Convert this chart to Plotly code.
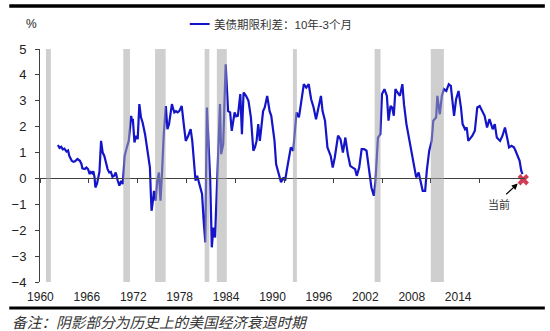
import plotly.graph_objects as go

# US Treasury term spread, 10Y minus 3M (%), sampled at turning points
years = [
    1962.2, 1962.4, 1962.6, 1962.8, 1963.0, 1963.25, 1963.45, 1963.6, 1963.9, 1964.1,
    1964.3, 1964.6, 1964.9, 1965.1, 1965.2, 1965.5, 1965.7, 1965.9, 1966.1, 1966.25,
    1966.4, 1966.55, 1966.7, 1966.8, 1967.0, 1967.2, 1967.3, 1967.5, 1967.6, 1967.7,
    1967.9, 1968.1, 1968.3, 1968.5, 1968.7, 1968.9, 1969.1, 1969.3, 1969.45, 1969.55,
    1969.75, 1969.96, 1970.16, 1970.4, 1970.6, 1970.9, 1971.2, 1971.3, 1971.4, 1971.5,
    1971.6, 1971.8, 1972.0, 1972.2, 1972.3, 1972.4, 1972.6, 1972.9, 1973.2, 1973.5,
    1973.6, 1973.7, 1973.85, 1974.0, 1974.2, 1974.3, 1974.4, 1974.6, 1974.7, 1974.8,
    1975.0, 1975.2, 1975.45, 1975.65, 1975.85, 1976.2, 1976.35, 1976.5, 1976.7, 1976.9,
    1977.1, 1977.4, 1977.7, 1977.9, 1978.2, 1978.5, 1978.7, 1978.9, 1979.1, 1979.3,
    1979.5, 1979.7, 1979.9, 1980.1, 1980.3, 1980.5, 1980.7, 1980.9, 1981.1, 1981.3,
    1981.5, 1981.7, 1981.9, 1982.1, 1982.25, 1982.5, 1982.8, 1983.1, 1983.35, 1983.55,
    1983.9, 1984.1, 1984.3, 1984.6, 1984.8, 1985.0, 1985.3, 1985.6, 1985.9, 1986.2,
    1986.4, 1986.6, 1986.8, 1987.0, 1987.4, 1987.6, 1987.9, 1988.2, 1988.4, 1988.8,
    1989.0, 1989.3, 1989.6, 1989.9, 1990.1, 1990.3, 1990.5, 1990.8, 1991.1, 1991.5,
    1991.8, 1992.1, 1992.4, 1992.7, 1993.0, 1993.3, 1993.6, 1993.9, 1994.2, 1994.5,
    1994.7, 1995.0, 1995.3, 1995.7, 1995.95, 1996.2, 1996.6, 1996.9, 1997.2, 1997.5,
    1997.8, 1998.1, 1998.4, 1998.7, 1998.9, 1999.2, 1999.5, 1999.8, 2000.1, 2000.4,
    2000.7, 2001.0, 2001.2, 2001.5, 2001.8, 2002.0, 2002.3, 2002.6, 2002.8, 2003.05,
    2003.25, 2003.45, 2003.65, 2003.9, 2004.2, 2004.5, 2004.7, 2005.0, 2005.3, 2005.6,
    2005.9, 2006.2, 2006.5, 2006.8, 2007.0, 2007.3, 2007.5, 2007.8, 2008.1, 2008.3,
    2008.65, 2008.8, 2009.1, 2009.35, 2009.6, 2009.9, 2010.2, 2010.45, 2010.7, 2010.85,
    2011.1, 2011.4, 2011.7, 2011.9, 2012.2, 2012.4, 2012.6, 2012.9, 2013.1, 2013.4,
    2013.7, 2014.0, 2014.35, 2014.6, 2014.9, 2015.2, 2015.6, 2015.85, 2016.1, 2016.5,
    2016.8, 2017.1, 2017.4, 2017.6, 2017.9, 2018.2, 2018.4, 2018.7, 2018.9, 2019.1,
    2019.25,
]
spread = [
    1.29, 1.18, 1.22, 1.12, 1.15, 1.04, 1.08, 0.87, 0.68, 0.64,
    0.66, 0.75, 0.68, 0.55, 0.39, 0.36, 0.42, 0.36, 0.17, 0.25,
    0.20, 0.28, 0.04, -0.35, -0.20, 0.10, 0.25, 1.45, 1.05, 1.00,
    0.87, 0.55, 0.36, 0.23, 0.25, 0.06, 0.10, 0.23, 0.00, -0.09,
    -0.28, -0.09, -0.22, 0.87, 1.13, 1.45, 2.42, 2.20, 2.30, 1.90,
    1.39, 1.65, 1.52, 2.87, 2.50, 2.36, 2.16, 1.71, 1.07, 0.42,
    -0.50, -1.25, -0.90, -0.48, -0.86, -0.40, -0.09, 0.23, -0.30, -0.86,
    0.30, 1.71, 2.80, 1.90, 2.10, 2.87, 2.70, 2.55, 2.60, 2.55,
    2.60, 2.80, 1.97, 1.45, 1.65, 1.90, 1.45, 0.55, -0.09, 0.10,
    -0.15, -0.35, -0.60, -1.63, -2.47, 2.74, 1.45, -0.03, -2.66, -1.90,
    -2.28, -0.60, 1.45, 2.87, 0.94, 1.33, 4.41, 2.60, 2.55, 1.84,
    2.55, 2.40, 2.42, 3.26, 1.71, 3.32, 3.19, 3.00, 2.36, 1.07,
    1.20, 1.45, 2.10, 1.45, 2.60, 2.74, 3.19, 2.60, 2.42, 1.45,
    0.55, 0.17, -0.15, 0.04, -0.09, 0.30, 0.68, 1.20, 1.07, 2.55,
    2.36, 3.06, 3.64, 3.51, 3.64, 3.06, 2.74, 2.29, 2.68, 3.19,
    2.60, 2.23, 1.20, 0.87, 0.42, 0.81, 1.65, 1.52, 1.00, 1.58,
    0.94, 0.49, 0.42, 0.36, 0.10, 0.42, 1.13, 1.13, 1.07, 0.42,
    -0.35, -0.67, -0.09, 1.58, 1.71, 3.26, 3.45, 3.19, 2.23, 2.80,
    2.74, 2.42, 3.45, 3.32, 3.19, 3.64, 2.87, 2.10, 1.58, 0.94,
    0.55, 0.04, 0.23, -0.22, -0.48, -0.48, 0.30, 1.07, 1.45, 2.23,
    2.36, 3.19, 2.48, 3.19, 3.45, 3.38, 3.64, 3.58, 2.80, 2.42,
    3.06, 3.38, 2.74, 2.10, 1.90, 1.97, 1.45, 1.58, 1.65, 1.84,
    2.74, 2.80, 2.60, 2.42, 1.97, 2.29, 1.90, 2.10, 1.58, 1.45,
    1.65, 1.97, 1.52, 1.20, 1.26, 1.20, 1.07, 0.81, 0.68, 0.30,
    0.17,
]

# Latest reading, highlighted with a marker
current_year = [2019.35]
current_value = [-0.05]

# US recession periods (shaded)
recession_start = [1960.73, 1970.23, 1974.13, 1980.22, 1981.72, 1991.06, 2001.09, 2007.99]
recession_end = [1961.34, 1971.05, 1975.43, 1980.79, 1982.94, 1991.55, 2001.82, 2009.60]

tick_years = [1960, 1966, 1972, 1978, 1984, 1990, 1996, 2002, 2008, 2014]
tick_labels = [str(y) for y in tick_years]
y_ticks = [-4, -3, -2, -1, 0, 1, 2, 3, 4, 5]

series_name = "美债期限利差：10年-3个月"
note_text = "备注：阴影部分为历史上的美国经济衰退时期"
current_label = "当前"

# ---- layout geometry (pixels) ----
W, H = 550, 331
L, R, T, B = 36, 25, 49, 49
plot_w = W - L - R
plot_h = H - T - B
px_per_year = 8.21
x_min = 1960
x_max = x_min + plot_w / px_per_year
y_min, y_max = -4, 5

# tick labels sit on their own slightly tighter scale
label_px_per_year = 7.8
lab_min = 1960 - 0.05
lab_max = lab_min + plot_w / label_px_per_year


def px_x(p):
    return (p - L) / plot_w


def px_y(p):
    return (H - B - p) / plot_h


NUM_FONT = "Liberation Sans, Arial, sans-serif"
CJK_FONT = "Liberation Sans, Noto Sans CJK SC, sans-serif"
LINE_BLUE = "#1414c8"
AXIS_COLOR = "#404040"

fig = go.Figure()

fig.add_trace(go.Scatter(
    x=years, y=spread, mode="lines", name=series_name,
    line=dict(color=LINE_BLUE, width=2.2), showlegend=False,
    hoverinfo="x+y",
))

fig.add_trace(go.Scatter(
    x=current_year, y=current_value, mode="markers",
    marker=dict(symbol="x", size=10, color="#d23c54", line=dict(width=0)),
    showlegend=False, cliponaxis=False, hoverinfo="skip",
))

# carrier trace for the bottom tick-label axis
fig.add_trace(go.Scatter(
    x=tick_years, y=[None] * len(tick_years), xaxis="x2", yaxis="y",
    mode="lines", showlegend=False, hoverinfo="skip",
))

for s, e in zip(recession_start, recession_end):
    fig.add_shape(type="rect", xref="x", yref="y", x0=s, x1=e, y0=y_min, y1=y_max,
                  fillcolor="rgb(168,168,168)", opacity=0.55, line=dict(width=0),
                  layer="above")

# frame rules above and below the chart
fig.add_shape(type="line", xref="paper", yref="paper",
              x0=px_x(5), x1=px_x(545), y0=px_y(6), y1=px_y(6),
              line=dict(color="black", width=3.5))
fig.add_shape(type="line", xref="paper", yref="paper",
              x0=px_x(5), x1=px_x(545), y0=px_y(308), y1=px_y(308),
              line=dict(color="black", width=3))

# legend sample
fig.add_shape(type="line", xref="paper", yref="paper",
              x0=px_x(187), x1=px_x(207), y0=px_y(24), y1=px_y(24),
              line=dict(color=LINE_BLUE, width=2))

annotations = [
    dict(text=series_name, x=px_x(209), y=px_y(24), xref="paper", yref="paper",
         xanchor="left", yanchor="middle", showarrow=False,
         font=dict(family=CJK_FONT, size=11.5, color="#333333")),
    dict(text="%", x=px_x(27), y=px_y(24), xref="paper", yref="paper",
         xanchor="center", yanchor="middle", showarrow=False,
         font=dict(family=NUM_FONT, size=12, color="#222222")),
    dict(text=note_text, x=px_x(6), y=px_y(321), xref="paper", yref="paper",
         xanchor="left", yanchor="middle", showarrow=False,
         font=dict(family="Noto Sans CJK SC, sans-serif", size=14.7, color="#333333",
                   style="italic")),
    dict(text=current_label, x=x_min + (499 - L) / px_per_year,
         y=(178 - 203.5) / (plot_h / (y_max - y_min)), xref="x", yref="y",
         xanchor="center", yanchor="middle", showarrow=False,
         font=dict(family="Noto Sans CJK SC, sans-serif", size=11, color="#333333")),
    dict(text="", x=x_min + (517.7 - L) / px_per_year, y=-0.2, xref="x", yref="y",
         showarrow=True, ax=-13, ay=12, arrowhead=2, arrowsize=1, arrowwidth=1.2,
         arrowcolor="black"),
]

fig.update_layout(
    width=W, height=H,
    margin=dict(l=L, r=R, t=T, b=B, pad=0),
    paper_bgcolor="white", plot_bgcolor="white",
    showlegend=False,
    annotations=annotations,
    xaxis=dict(
        range=[x_min, x_max], anchor="free", position=(0 - y_min) / (y_max - y_min),
        tickvals=tick_years, showticklabels=False,
        ticks="outside", ticklen=4, tickcolor=AXIS_COLOR, tickwidth=1,
        showline=True, linecolor=AXIS_COLOR, linewidth=1,
        showgrid=False, zeroline=False,
    ),
    xaxis2=dict(
        range=[lab_min, lab_max], overlaying="x", anchor="y", side="bottom",
        tickvals=tick_years, ticktext=tick_labels, ticks="",
        showline=False, showgrid=False, zeroline=False,
        tickfont=dict(family=NUM_FONT, size=12, color="#222222"),
        ticklabelstandoff=6,
    ),
    yaxis=dict(
        range=[y_min, y_max], tickvals=y_ticks, anchor="x",
        ticks="outside", ticklen=4, tickcolor=AXIS_COLOR, tickwidth=1,
        showline=True, linecolor=AXIS_COLOR, linewidth=1,
        showgrid=False, zeroline=False,
        tickfont=dict(family=NUM_FONT, size=13, color="#222222"),
        ticklabelstandoff=6,
    ),
)

fig.write_html("out.html")
